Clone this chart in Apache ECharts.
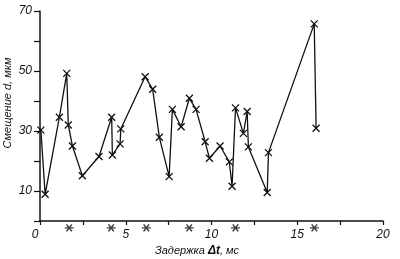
<!DOCTYPE html>
<html><head><meta charset="utf-8">
<script src="https://cdn.jsdelivr.net/npm/echarts@6/dist/echarts.min.js"></script>
<style>html,body{margin:0;padding:0;background:#fff}#c{width:400px;height:259px}</style>
</head><body><div id="c"></div>
<script>
var delayMs = [0.05,0.3,1.13,1.56,1.65,1.89,2.47,3.44,4.18,4.22,4.67,4.71,6.13,6.57,6.96,7.53,7.72,8.23,8.71,9.1,9.63,9.88,10.5,11.04,11.2,11.4,11.86,12.08,12.15,13.25,13.32,15.99,16.1];
var shiftUm = [30.3,8.9,34.6,49.2,32,25,15.1,21.5,34.6,22,25.7,30.7,48.1,43.9,27.9,14.8,37.2,31.4,40.9,37.2,26.4,20.9,25,19.7,11.6,37.7,29.2,36.5,24.7,9.5,22.8,65.7,30.9];
var starMs = [1.7,4.15,6.2,8.7,11.4,16.0];
var starLevel = [-2.3,-2.3,-2.3,-2.3,-2.3,-2.3];
var xTicks = [0,5,10,15,20];
var yTicks = [10,30,50,70];
var yTitle = 'Смещение d, мкм';

var mainData = delayMs.map(function(x,i){return [x, shiftUm[i]];});
var starData = starMs.map(function(x,i){return [x, starLevel[i]];});
var FONT = '"Liberation Sans", Arial, sans-serif';
var chart = echarts.init(document.getElementById('c'), null, {renderer:'canvas'});
chart.setOption({
  animation:false,
  grid:{left:40,right:17,top:11,bottom:38,containLabel:false,outerBoundsMode:'none'},
  graphic:[{type:'text',x:8,y:103,rotation:Math.PI/2,
    style:{text:yTitle,font:'italic 11px "Liberation Sans", Arial, sans-serif',fill:'#111',align:'center',verticalAlign:'middle'}}],
  xAxis:{type:'value',min:0,max:20,interval:2.5,
    name:'Задержка {b|Δt}, мс',nameLocation:'middle',nameGap:24,nameMoveOverlap:false,
    nameTextStyle:{fontFamily:FONT,fontSize:11,fontStyle:'italic',color:'#111',padding:[0,29,0,0],
      rich:{b:{fontFamily:FONT,fontSize:12,fontWeight:'bold',fontStyle:'italic',color:'#111'}}},
    axisLine:{lineStyle:{color:'#111',width:1.5}},
    axisTick:{inside:false,length:4,lineStyle:{color:'#111',width:1.2}},
    splitLine:{show:false},
    axisLabel:{fontFamily:FONT,fontSize:12,fontStyle:'italic',color:'#111',margin:8,
      formatter:function(v){ if(xTicks.indexOf(v)<0) return ''; return v===0?'{z|0}':String(v);},
      rich:{z:{fontFamily:FONT,fontSize:12,fontStyle:'italic',color:'#111',padding:[0,10,0,0]}}}
  },
  yAxis:{type:'value',min:0,max:70,interval:10,
    axisLine:{show:true,lineStyle:{color:'#111',width:1.5}},
    axisTick:{show:true,inside:false,length:6,lineStyle:{color:'#111',width:1.2}},
    splitLine:{show:false},
    axisLabel:{fontFamily:FONT,fontSize:12,fontStyle:'italic',color:'#111',margin:8,
      formatter:function(v){return yTicks.indexOf(v)<0?'':String(v);}}
  },
  series:[
    {type:'line',data:mainData,symbol:'path://M0,0L10,10M10,0L0,10',symbolSize:7,
      lineStyle:{color:'#111',width:1.3},
      itemStyle:{color:'#111',borderColor:'#111',borderWidth:1.3},z:3},
    {type:'scatter',data:starData,clip:false,symbol:'path://M0,5L10,5M2,0.5L8,9.5M8,0.5L2,9.5',symbolSize:[9,7],
      itemStyle:{color:'#111',borderColor:'#111',borderWidth:1.3},z:4}
  ]
});
</script></body></html>
